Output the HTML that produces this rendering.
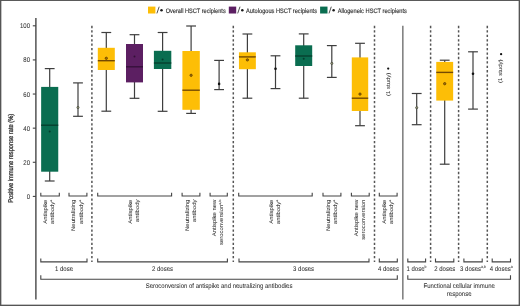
<!DOCTYPE html>
<html><head><meta charset="utf-8"><style>
html,body{margin:0;padding:0;background:#fff;}
body{width:520px;height:306px;overflow:hidden;}
svg{display:block;font-family:"Liberation Sans", sans-serif;will-change:transform;text-rendering:geometricPrecision;}
text{stroke:#333;stroke-width:0.05px;}
</style></head><body>
<svg width="520" height="306" viewBox="0 0 520 306">
<rect width="520" height="306" fill="#fff"/>
<rect x="0" y="0" width="520" height="1" fill="#5a5a5a"/>
<rect x="0" y="0" width="1.35" height="306" fill="#555"/>
<rect x="518.65" y="0" width="1.35" height="306" fill="#555"/>
<rect x="0" y="304.65" width="520" height="1.35" fill="#555"/>
<line x1="35.9" y1="17.9" x2="35.9" y2="299.4" stroke="#383838" stroke-width="1.3" />
<line x1="32.8" y1="196.4" x2="35.9" y2="196.4" stroke="#444444" stroke-width="1.1" />
<text x="0" y="0" font-size="6.0" text-anchor="end" fill="#333333" transform="translate(30.0,198.95000000000002) scale(1,1.15)" >0</text>
<line x1="32.8" y1="162.28" x2="35.9" y2="162.28" stroke="#444444" stroke-width="1.1" />
<text x="0" y="0" font-size="6.0" text-anchor="end" fill="#333333" transform="translate(30.0,164.83) scale(1,1.15)" >20</text>
<line x1="32.8" y1="128.16000000000003" x2="35.9" y2="128.16000000000003" stroke="#444444" stroke-width="1.1" />
<text x="0" y="0" font-size="6.0" text-anchor="end" fill="#333333" transform="translate(30.0,130.71000000000004) scale(1,1.15)" >40</text>
<line x1="32.8" y1="94.04" x2="35.9" y2="94.04" stroke="#444444" stroke-width="1.1" />
<text x="0" y="0" font-size="6.0" text-anchor="end" fill="#333333" transform="translate(30.0,96.59) scale(1,1.15)" >60</text>
<line x1="32.8" y1="59.920000000000016" x2="35.9" y2="59.920000000000016" stroke="#444444" stroke-width="1.1" />
<text x="0" y="0" font-size="6.0" text-anchor="end" fill="#333333" transform="translate(30.0,62.47000000000001) scale(1,1.15)" >80</text>
<line x1="32.8" y1="25.80000000000001" x2="35.9" y2="25.80000000000001" stroke="#444444" stroke-width="1.1" />
<text x="0" y="0" font-size="6.0" text-anchor="end" fill="#333333" transform="translate(30.0,28.350000000000012) scale(1,1.15)" >100</text>
<text x="-44.5" y="0" font-size="6.9" textLength="89.0" lengthAdjust="spacingAndGlyphs" fill="#333333" style="stroke-width:0.3px" transform="translate(12.95,158.3) rotate(-90)">Positive immune response rate (%)</text>
<line x1="91.9" y1="25.85" x2="91.9" y2="262" stroke="#555" stroke-width="1.5" stroke-dasharray="2.3 2.125"/>
<line x1="233.3" y1="25.85" x2="233.3" y2="262" stroke="#555" stroke-width="1.5" stroke-dasharray="2.3 2.125"/>
<line x1="374.5" y1="25.85" x2="374.5" y2="262" stroke="#555" stroke-width="1.5" stroke-dasharray="2.3 2.125"/>
<line x1="430.6" y1="25.85" x2="430.6" y2="262" stroke="#555" stroke-width="1.5" stroke-dasharray="2.3 2.125"/>
<line x1="458.6" y1="25.85" x2="458.6" y2="262" stroke="#555" stroke-width="1.5" stroke-dasharray="2.3 2.125"/>
<line x1="487.3" y1="25.85" x2="487.3" y2="262" stroke="#555" stroke-width="1.5" stroke-dasharray="2.3 2.125"/>
<line x1="402.85" y1="25.7" x2="402.85" y2="299.4" stroke="#666" stroke-width="1.3" />
<line x1="49.7" y1="68.6" x2="49.7" y2="181.0" stroke="#3e3e3e" stroke-width="1.2" />
<line x1="44.800000000000004" y1="68.6" x2="54.6" y2="68.6" stroke="#3e3e3e" stroke-width="1.2" />
<line x1="44.800000000000004" y1="181.0" x2="54.6" y2="181.0" stroke="#3e3e3e" stroke-width="1.2" />
<rect x="41.150000000000006" y="86.9" width="17.1" height="84.79999999999998" fill="#0A6D50" />
<line x1="41.150000000000006" y1="125.2" x2="58.25" y2="125.2" stroke="#06402e" stroke-width="1.4" />
<circle cx="49.7" cy="131.5" r="1.0" fill="rgba(0,0,0,0.45)"/>
<line x1="106.3" y1="32.5" x2="106.3" y2="111.2" stroke="#3e3e3e" stroke-width="1.2" />
<line x1="101.39999999999999" y1="32.5" x2="111.2" y2="32.5" stroke="#3e3e3e" stroke-width="1.2" />
<line x1="101.39999999999999" y1="111.2" x2="111.2" y2="111.2" stroke="#3e3e3e" stroke-width="1.2" />
<rect x="97.8" y="47.8" width="17.0" height="22.200000000000003" fill="#FDBE06" />
<line x1="97.8" y1="60.7" x2="114.8" y2="60.7" stroke="#744a02" stroke-width="1.4" />
<circle cx="106.3" cy="58.3" r="1.15" fill="#a87408" stroke="#5a3800" stroke-width="0.8"/>
<line x1="134.5" y1="34.7" x2="134.5" y2="98.3" stroke="#3e3e3e" stroke-width="1.2" />
<line x1="129.6" y1="34.7" x2="139.4" y2="34.7" stroke="#3e3e3e" stroke-width="1.2" />
<line x1="129.6" y1="98.3" x2="139.4" y2="98.3" stroke="#3e3e3e" stroke-width="1.2" />
<rect x="126.0" y="44.0" width="17.0" height="38.400000000000006" fill="#5C1F62" />
<line x1="126.0" y1="66.8" x2="143.0" y2="66.8" stroke="#36103b" stroke-width="1.4" />
<circle cx="134.5" cy="56.6" r="1.0" fill="rgba(0,0,0,0.45)"/>
<line x1="162.6" y1="32.5" x2="162.6" y2="111.3" stroke="#3e3e3e" stroke-width="1.2" />
<line x1="157.7" y1="32.5" x2="167.5" y2="32.5" stroke="#3e3e3e" stroke-width="1.2" />
<line x1="157.7" y1="111.3" x2="167.5" y2="111.3" stroke="#3e3e3e" stroke-width="1.2" />
<rect x="153.9" y="50.8" width="17.4" height="18.200000000000003" fill="#0A6D50" />
<line x1="153.9" y1="63.0" x2="171.29999999999998" y2="63.0" stroke="#06402e" stroke-width="1.4" />
<circle cx="162.6" cy="59.4" r="1.0" fill="rgba(0,0,0,0.45)"/>
<line x1="191.1" y1="26.0" x2="191.1" y2="113.4" stroke="#3e3e3e" stroke-width="1.2" />
<line x1="186.2" y1="26.0" x2="196.0" y2="26.0" stroke="#3e3e3e" stroke-width="1.2" />
<line x1="186.2" y1="113.4" x2="196.0" y2="113.4" stroke="#3e3e3e" stroke-width="1.2" />
<rect x="182.4" y="51.0" width="17.4" height="58.8" fill="#FDBE06" />
<line x1="182.4" y1="90.2" x2="199.79999999999998" y2="90.2" stroke="#744a02" stroke-width="1.4" />
<circle cx="191.1" cy="75.3" r="1.15" fill="#a87408" stroke="#5a3800" stroke-width="0.8"/>
<line x1="247.4" y1="34.0" x2="247.4" y2="98.2" stroke="#3e3e3e" stroke-width="1.2" />
<line x1="242.5" y1="34.0" x2="252.3" y2="34.0" stroke="#3e3e3e" stroke-width="1.2" />
<line x1="242.5" y1="98.2" x2="252.3" y2="98.2" stroke="#3e3e3e" stroke-width="1.2" />
<rect x="238.95000000000002" y="52.3" width="16.9" height="16.900000000000006" fill="#FDBE06" />
<line x1="238.95000000000002" y1="56.9" x2="255.85" y2="56.9" stroke="#744a02" stroke-width="1.4" />
<circle cx="247.4" cy="59.9" r="1.15" fill="#a87408" stroke="#5a3800" stroke-width="0.8"/>
<line x1="303.7" y1="33.9" x2="303.7" y2="98.2" stroke="#3e3e3e" stroke-width="1.2" />
<line x1="298.8" y1="33.9" x2="308.59999999999997" y2="33.9" stroke="#3e3e3e" stroke-width="1.2" />
<line x1="298.8" y1="98.2" x2="308.59999999999997" y2="98.2" stroke="#3e3e3e" stroke-width="1.2" />
<rect x="295.2" y="45.3" width="17.0" height="20.700000000000003" fill="#0A6D50" />
<line x1="295.2" y1="56.0" x2="312.2" y2="56.0" stroke="#06402e" stroke-width="1.4" />
<circle cx="303.7" cy="58.8" r="1.0" fill="rgba(0,0,0,0.45)"/>
<line x1="360.0" y1="43.3" x2="360.0" y2="125.7" stroke="#3e3e3e" stroke-width="1.2" />
<line x1="355.1" y1="43.3" x2="364.9" y2="43.3" stroke="#3e3e3e" stroke-width="1.2" />
<line x1="355.1" y1="125.7" x2="364.9" y2="125.7" stroke="#3e3e3e" stroke-width="1.2" />
<rect x="351.8" y="57.4" width="16.4" height="53.6" fill="#FDBE06" />
<line x1="351.8" y1="98.2" x2="368.2" y2="98.2" stroke="#744a02" stroke-width="1.4" />
<circle cx="360.0" cy="94.1" r="1.15" fill="#a87408" stroke="#5a3800" stroke-width="0.8"/>
<line x1="444.7" y1="60.2" x2="444.7" y2="164.2" stroke="#3e3e3e" stroke-width="1.2" />
<line x1="439.8" y1="60.2" x2="449.59999999999997" y2="60.2" stroke="#3e3e3e" stroke-width="1.2" />
<line x1="439.8" y1="164.2" x2="449.59999999999997" y2="164.2" stroke="#3e3e3e" stroke-width="1.2" />
<rect x="436.25" y="61.9" width="16.9" height="38.699999999999996" fill="#FDBE06" />
<line x1="436.25" y1="72.4" x2="453.15" y2="72.4" stroke="#744a02" stroke-width="1.4" />
<circle cx="444.7" cy="83.7" r="1.15" fill="#a87408" stroke="#5a3800" stroke-width="0.8"/>
<line x1="78.0" y1="82.9" x2="78.0" y2="116.3" stroke="#3e3e3e" stroke-width="1.2" />
<line x1="73.1" y1="82.9" x2="82.9" y2="82.9" stroke="#3e3e3e" stroke-width="1.2" />
<line x1="73.1" y1="116.3" x2="82.9" y2="116.3" stroke="#3e3e3e" stroke-width="1.2" />
<circle cx="78.0" cy="107.5" r="1.1" fill="#9a9a80" stroke="#3e4232" stroke-width="0.7"/>
<line x1="219.1" y1="60.4" x2="219.1" y2="89.6" stroke="#3e3e3e" stroke-width="1.2" />
<line x1="214.2" y1="60.4" x2="224.0" y2="60.4" stroke="#3e3e3e" stroke-width="1.2" />
<line x1="214.2" y1="89.6" x2="224.0" y2="89.6" stroke="#3e3e3e" stroke-width="1.2" />
<circle cx="219.1" cy="83.9" r="1.3" fill="#111"/>
<line x1="275.5" y1="55.8" x2="275.5" y2="88.6" stroke="#3e3e3e" stroke-width="1.2" />
<line x1="270.6" y1="55.8" x2="280.4" y2="55.8" stroke="#3e3e3e" stroke-width="1.2" />
<line x1="270.6" y1="88.6" x2="280.4" y2="88.6" stroke="#3e3e3e" stroke-width="1.2" />
<circle cx="275.5" cy="68.8" r="1.3" fill="#111"/>
<line x1="331.8" y1="45.6" x2="331.8" y2="77.4" stroke="#3e3e3e" stroke-width="1.2" />
<line x1="326.90000000000003" y1="45.6" x2="336.7" y2="45.6" stroke="#3e3e3e" stroke-width="1.2" />
<line x1="326.90000000000003" y1="77.4" x2="336.7" y2="77.4" stroke="#3e3e3e" stroke-width="1.2" />
<circle cx="331.8" cy="63.4" r="1.1" fill="#9a9a80" stroke="#3e4232" stroke-width="0.7"/>
<line x1="416.7" y1="93.5" x2="416.7" y2="124.7" stroke="#3e3e3e" stroke-width="1.2" />
<line x1="411.8" y1="93.5" x2="421.59999999999997" y2="93.5" stroke="#3e3e3e" stroke-width="1.2" />
<line x1="411.8" y1="124.7" x2="421.59999999999997" y2="124.7" stroke="#3e3e3e" stroke-width="1.2" />
<circle cx="416.7" cy="107.7" r="1.1" fill="#9a9a80" stroke="#3e4232" stroke-width="0.7"/>
<line x1="473.0" y1="51.8" x2="473.0" y2="109.1" stroke="#3e3e3e" stroke-width="1.2" />
<line x1="468.1" y1="51.8" x2="477.9" y2="51.8" stroke="#3e3e3e" stroke-width="1.2" />
<line x1="468.1" y1="109.1" x2="477.9" y2="109.1" stroke="#3e3e3e" stroke-width="1.2" />
<circle cx="473.0" cy="73.8" r="1.3" fill="#111"/>
<circle cx="388.2" cy="68.6" r="1.15" fill="#111"/>
<text x="0" y="0" font-size="5.4" text-anchor="end" fill="#333333" transform="translate(389.5,72.6) scale(1,1.12) rotate(-90)">(1 study)</text>
<circle cx="501.1" cy="54.2" r="1.15" fill="#111"/>
<text x="0" y="0" font-size="5.4" text-anchor="end" fill="#333333" transform="translate(502.40000000000003,59.4) scale(1,1.12) rotate(-90)">(1 study)</text>
<path d="M40.8,192.8 V196.0 H59.3 V192.8" fill="none" stroke="#444444" stroke-width="1.1"/>
<path d="M69.0,192.8 V196.0 H86.9 V192.8" fill="none" stroke="#444444" stroke-width="1.1"/>
<path d="M97.7,192.8 V196.0 H171.6 V192.8" fill="none" stroke="#444444" stroke-width="1.1"/>
<path d="M182.1,192.8 V196.0 H199.9 V192.8" fill="none" stroke="#444444" stroke-width="1.1"/>
<path d="M210.1,192.8 V196.0 H227.3 V192.8" fill="none" stroke="#444444" stroke-width="1.1"/>
<path d="M238.7,192.8 V196.0 H312.2 V192.8" fill="none" stroke="#444444" stroke-width="1.1"/>
<path d="M323.0,192.8 V196.0 H340.9 V192.8" fill="none" stroke="#444444" stroke-width="1.1"/>
<path d="M351.4,192.8 V196.0 H369.2 V192.8" fill="none" stroke="#444444" stroke-width="1.1"/>
<path d="M379.3,192.8 V196.0 H397.1 V192.8" fill="none" stroke="#444444" stroke-width="1.1"/>
<path d="M40.8,258.4 V261.9 H87.0 V258.4" fill="none" stroke="#444444" stroke-width="1.1"/>
<path d="M97.7,258.4 V261.9 H227.4 V258.4" fill="none" stroke="#444444" stroke-width="1.1"/>
<path d="M239.0,258.4 V261.9 H369.0 V258.4" fill="none" stroke="#444444" stroke-width="1.1"/>
<path d="M379.3,258.4 V261.9 H397.3 V258.4" fill="none" stroke="#444444" stroke-width="1.1"/>
<path d="M407.8,258.4 V261.9 H425.6 V258.4" fill="none" stroke="#444444" stroke-width="1.1"/>
<path d="M435.5,258.4 V261.9 H453.8 V258.4" fill="none" stroke="#444444" stroke-width="1.1"/>
<path d="M463.9,258.4 V261.9 H482.2 V258.4" fill="none" stroke="#444444" stroke-width="1.1"/>
<path d="M492.2,258.4 V261.9 H510.5 V258.4" fill="none" stroke="#444444" stroke-width="1.1"/>
<path d="M40.8,275.3 V279.2 H397.3 V275.3" fill="none" stroke="#444444" stroke-width="1.1"/>
<path d="M407.8,275.3 V279.2 H510.5 V275.3" fill="none" stroke="#444444" stroke-width="1.1"/>
<text x="0" y="0" font-size="5.3" text-anchor="end" fill="#333333" transform="translate(47.20,199.6) scale(1,1.12) rotate(-90)">Antispike</text>
<text x="0" y="0" font-size="5.3" text-anchor="end" fill="#333333" transform="translate(54.30,199.6) scale(1,1.12) rotate(-90)">antibody<tspan font-size="3.3" dy="-1.9">a</tspan></text>
<text x="0" y="0" font-size="5.3" text-anchor="end" fill="#333333" transform="translate(75.40,199.6) scale(1,1.12) rotate(-90)">Neutralizing</text>
<text x="0" y="0" font-size="5.3" text-anchor="end" fill="#333333" transform="translate(82.50,199.6) scale(1,1.12) rotate(-90)">antibody<tspan font-size="3.3" dy="-1.9">a</tspan></text>
<text x="0" y="0" font-size="5.3" text-anchor="end" fill="#333333" transform="translate(132.20,199.6) scale(1,1.12) rotate(-90)">Antispike</text>
<text x="0" y="0" font-size="5.3" text-anchor="end" fill="#333333" transform="translate(139.30,199.6) scale(1,1.12) rotate(-90)">antibody</text>
<text x="0" y="0" font-size="5.3" text-anchor="end" fill="#333333" transform="translate(188.60,199.6) scale(1,1.12) rotate(-90)">Neutralizing</text>
<text x="0" y="0" font-size="5.3" text-anchor="end" fill="#333333" transform="translate(195.70,199.6) scale(1,1.12) rotate(-90)">antibody</text>
<text x="0" y="0" font-size="5.3" text-anchor="end" fill="#333333" transform="translate(216.20,199.6) scale(1,1.12) rotate(-90)">Antispike new</text>
<text x="0" y="0" font-size="5.3" text-anchor="end" fill="#333333" transform="translate(223.30,199.6) scale(1,1.12) rotate(-90)">seroconversion<tspan font-size="3.3" dy="-1.9">a,b</tspan></text>
<text x="0" y="0" font-size="5.3" text-anchor="end" fill="#333333" transform="translate(273.00,199.6) scale(1,1.12) rotate(-90)">Antispike</text>
<text x="0" y="0" font-size="5.3" text-anchor="end" fill="#333333" transform="translate(280.10,199.6) scale(1,1.12) rotate(-90)">antibody<tspan font-size="3.3" dy="-1.9">a</tspan></text>
<text x="0" y="0" font-size="5.3" text-anchor="end" fill="#333333" transform="translate(329.50,199.6) scale(1,1.12) rotate(-90)">Neutralizing</text>
<text x="0" y="0" font-size="5.3" text-anchor="end" fill="#333333" transform="translate(336.60,199.6) scale(1,1.12) rotate(-90)">antibody<tspan font-size="3.3" dy="-1.9">a</tspan></text>
<text x="0" y="0" font-size="5.3" text-anchor="end" fill="#333333" transform="translate(357.80,199.6) scale(1,1.12) rotate(-90)">Antispike new</text>
<text x="0" y="0" font-size="5.3" text-anchor="end" fill="#333333" transform="translate(364.90,199.6) scale(1,1.12) rotate(-90)">seroconversion</text>
<text x="0" y="0" font-size="5.3" text-anchor="end" fill="#333333" transform="translate(385.80,199.6) scale(1,1.12) rotate(-90)">Antispike</text>
<text x="0" y="0" font-size="5.3" text-anchor="end" fill="#333333" transform="translate(392.90,199.6) scale(1,1.12) rotate(-90)">antibody<tspan font-size="3.3" dy="-1.9">a</tspan></text>
<text x="0" y="0" font-size="6.0" text-anchor="middle" fill="#333333" transform="translate(64.0,270.9) scale(1,1.12)" >1 dose</text>
<text x="0" y="0" font-size="6.0" text-anchor="middle" fill="#333333" transform="translate(162.5,270.9) scale(1,1.12)" >2 doses</text>
<text x="0" y="0" font-size="6.0" text-anchor="middle" fill="#333333" transform="translate(303.6,270.9) scale(1,1.12)" >3 doses</text>
<text x="0" y="0" font-size="6.0" text-anchor="middle" fill="#333333" transform="translate(388.4,270.9) scale(1,1.12)" >4 doses</text>
<text x="0" y="0" font-size="6.0" text-anchor="middle" fill="#333333" transform="translate(416.5,270.9) scale(1,1.12)" >1 dose<tspan font-size="3.5" dy="-2.5">b</tspan></text>
<text x="0" y="0" font-size="6.0" text-anchor="middle" fill="#333333" transform="translate(444.7,270.9) scale(1,1.12)" >2 doses</text>
<text x="0" y="0" font-size="6.0" text-anchor="middle" fill="#333333" transform="translate(473.0,270.9) scale(1,1.12)" >3 doses<tspan font-size="3.5" dy="-2.5">a,b</tspan></text>
<text x="0" y="0" font-size="6.0" text-anchor="middle" fill="#333333" transform="translate(501.2,270.9) scale(1,1.12)" >4 doses<tspan font-size="3.5" dy="-2.5">a</tspan></text>
<text x="0" y="0" font-size="6.0" text-anchor="middle" fill="#333333" transform="translate(219.0,287.6) scale(1,1.12)" >Seroconversion of antispike and neutralizing antibodies</text>
<text x="0" y="0" font-size="6.0" text-anchor="middle" fill="#333333" transform="translate(459.2,287.6) scale(1,1.12)" >Functional cellular immune</text>
<text x="0" y="0" font-size="6.0" text-anchor="middle" fill="#333333" transform="translate(459.2,295.6) scale(1,1.12)" >response</text>
<rect x="148.0" y="6.6" width="7.4" height="6.9" fill="#FDBE06" />
<line x1="159.2" y1="6.7" x2="156.9" y2="13.4" stroke="#333" stroke-width="0.85" />
<circle cx="161.5" cy="10.35" r="1.25" fill="#1a1a1a"/>
<text x="0" y="0" font-size="6.0" text-anchor="start" fill="#333333" transform="translate(165.70000000000002,12.6) scale(1,1.07)" textLength="60.0" lengthAdjust="spacingAndGlyphs" style="stroke-width:0.14px">Overall HSCT recipients</text>
<rect x="228.8" y="6.6" width="7.4" height="6.9" fill="#5C1F62" />
<line x1="240.0" y1="6.7" x2="237.70000000000002" y2="13.4" stroke="#333" stroke-width="0.85" />
<circle cx="242.3" cy="10.35" r="1.25" fill="#1a1a1a"/>
<text x="0" y="0" font-size="6.0" text-anchor="start" fill="#333333" transform="translate(246.10000000000002,12.6) scale(1,1.07)" textLength="70.9" lengthAdjust="spacingAndGlyphs" style="stroke-width:0.14px">Autologous HSCT recipients</text>
<rect x="320.1" y="6.6" width="7.4" height="6.9" fill="#0A6D50" />
<line x1="331.3" y1="6.7" x2="329.0" y2="13.4" stroke="#333" stroke-width="0.85" />
<circle cx="333.6" cy="10.35" r="1.25" fill="#1a1a1a"/>
<text x="0" y="0" font-size="6.0" text-anchor="start" fill="#333333" transform="translate(337.7,12.6) scale(1,1.07)" textLength="69.2" lengthAdjust="spacingAndGlyphs" style="stroke-width:0.14px">Allogeneic HSCT recipients</text>
</svg>
</body></html>
